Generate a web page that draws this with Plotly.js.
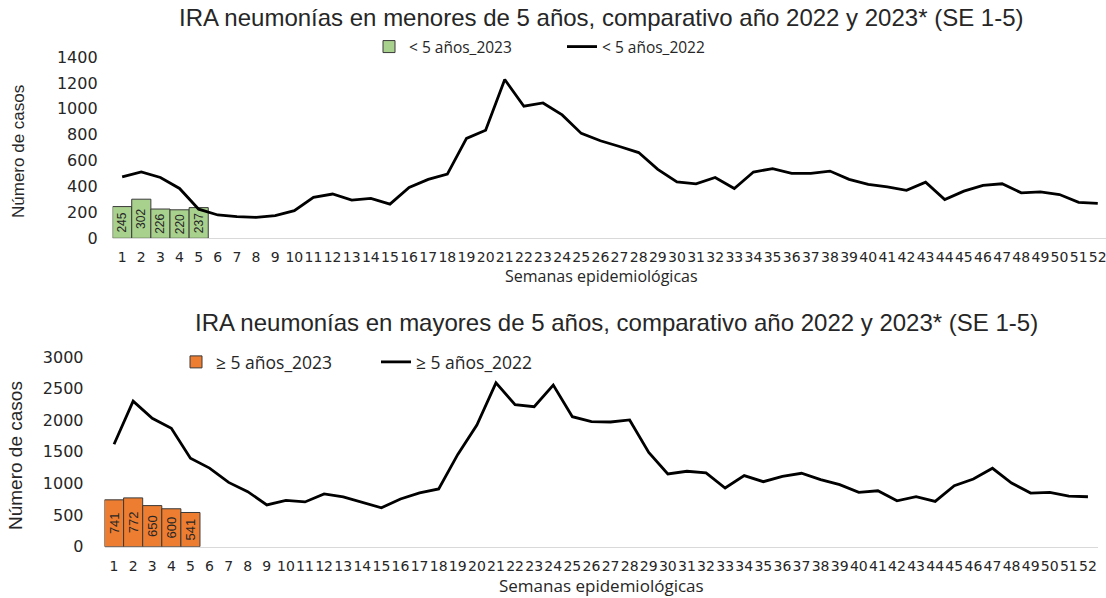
<!DOCTYPE html>
<html>
<head>
<meta charset="utf-8">
<script src="https://cdn.plot.ly/plotly-3.0.1.min.js"></script>
<style>html,body{margin:0;padding:0;background:#fff;}#chart{width:1106px;height:598px;}</style>
</head>
<body>
<div id="chart"></div>
<script>
// ---- data ----
const weeks = [1,2,3,4,5,6,7,8,9,10,11,12,13,14,15,16,17,18,19,20,21,22,23,24,25,26,27,28,29,30,31,32,33,34,35,36,37,38,39,40,41,42,43,44,45,46,47,48,49,50,51,52];
const weekLabels = ["1","2","3","4","5","6","7","8","9","10","11","12","13","14","15","16","17","18","19","20","21","22","23","24","25","26","27","28","29","30","31","32","33","34","35","36","37","38","39","40","41","42","43","44","45","46","47","48","49","50","51","52"];
const weeks2023 = [1,2,3,4,5];

const menores2023 = [245,302,226,220,237];
const menores2022 = [475,513,470,385,225,180,167,162,175,213,316,342,295,308,264,393,455,496,771,835,1226,1020,1045,953,810,753,709,662,532,436,421,470,384,512,538,501,501,519,455,416,397,371,434,299,364,408,421,351,358,338,278,270];

const mayores2023 = [741,772,650,600,541];
const mayores2022 = [1621,2302,2030,1872,1400,1243,1017,871,661,734,708,834,787,703,614,755,850,913,1460,1925,2591,2245,2213,2555,2056,1977,1972,2004,1490,1150,1193,1166,928,1124,1028,1113,1161,1060,981,859,885,726,790,716,965,1071,1240,1007,848,859,800,790];

const names = ["< 5 años_2023","< 5 años_2022","≥ 5 años_2023","≥ 5 años_2022"];
const titles = ["IRA neumonías en menores de 5 años, comparativo año 2022 y 2023* (SE 1-5)",
                "IRA neumonías en mayores de 5 años, comparativo año 2022 y 2023* (SE 1-5)"];
const xTitle = "Semanas epidemiológicas";
const yTitle = "Número de casos";

// ---- styling ----
const W = 1106, H = 598;
const px = v => v / W;
const py = v => 1 - v / H;
const TXT = "#262626";
const FONT = "Open Sans, DejaVu Sans, sans-serif";
const TICKFONT = "DejaVu Sans, sans-serif";
const TFONT = "Liberation Sans, Arial, sans-serif";

const traces = [
  {type:"bar", x:weeks2023, y:menores2023, name:names[0], xaxis:"x", yaxis:"y",
   marker:{color:"#a9d18e", line:{color:"#3a3a3a", width:1}},
   text:menores2023.map(String), textposition:"inside", textangle:-90, insidetextanchor:"middle", constraintext:"none",
   textfont:{family:TFONT, size:12, color:TXT}, legend:"legend", hoverinfo:"x+y"},
  {type:"scatter", mode:"lines", x:weeks, y:menores2022, name:names[1], xaxis:"x", yaxis:"y",
   line:{color:"#000", width:2.8}, legend:"legend"},
  {type:"bar", x:weeks2023, y:mayores2023, name:names[2], xaxis:"x2", yaxis:"y2",
   marker:{color:"#ed7d31", line:{color:"#3a3a3a", width:1}},
   text:mayores2023.map(String), textposition:"inside", textangle:-90, insidetextanchor:"middle", constraintext:"none",
   textfont:{family:TFONT, size:13, color:TXT}, legend:"legend2", hoverinfo:"x+y"},
  {type:"scatter", mode:"lines", x:weeks, y:mayores2022, name:names[3], xaxis:"x2", yaxis:"y2",
   line:{color:"#000", width:2.8}, legend:"legend2"}
];

const xCommon = {tickmode:"array", tickvals:weeks, ticktext:weekLabels, showgrid:false, zeroline:false,
  showline:true, linecolor:"#d9d9d9", linewidth:1, ticks:"", ticklabelstandoff:6, ticklabeloverflow:"allow",
  tickfont:{family:TICKFONT, size:14, color:TXT}, tickangle:0, automargin:false, fixedrange:true};
const yCommon = {showgrid:false, zeroline:false, showline:false, ticks:"",
  tickfont:{family:TICKFONT, size:16, color:TXT}, automargin:false, fixedrange:true};

const layout = {
  width:W, height:H, margin:{l:0,r:0,t:0,b:0}, paper_bgcolor:"#fff", plot_bgcolor:"rgba(0,0,0,0)",
  bargap:0, showlegend:true,
  xaxis:Object.assign({}, xCommon, {domain:[px(112.6), 1], range:[0.5, 52.43], anchor:"y"}),
  yaxis:Object.assign({}, yCommon, {domain:[py(238.3), py(57)], range:[0,1400], dtick:200, anchor:"x", ticklabelstandoff:14}),
  xaxis2:Object.assign({}, xCommon, {domain:[px(104.5), px(1097.5)], range:[0.5, 52.5], anchor:"y2"}),
  yaxis2:Object.assign({}, yCommon, {domain:[py(546.7), py(357)], range:[0,3000], dtick:500, anchor:"x2", ticklabelstandoff:20}),
  legend:{orientation:"h", x:px(369), xanchor:"left", y:py(47), yanchor:"middle", itemwidth:30, entrywidth:148,
    font:{family:FONT, size:15.5, color:TXT}, bgcolor:"rgba(0,0,0,0)", traceorder:"normal", itemclick:false},
  legend2:{orientation:"h", x:px(176), xanchor:"left", y:py(362), yanchor:"middle", itemwidth:30, entrywidth:155,
    font:{family:FONT, size:17.5, color:TXT}, bgcolor:"rgba(0,0,0,0)", traceorder:"normal", itemclick:false},
  annotations:[
    {text:titles[0], x:px(601), y:py(18), xref:"paper", yref:"paper", xanchor:"center", yanchor:"middle", showarrow:false,
     font:{family:TFONT, size:24, color:TXT}},
    {text:titles[1], x:px(616), y:py(322), xref:"paper", yref:"paper", xanchor:"center", yanchor:"middle", showarrow:false,
     font:{family:TFONT, size:24, color:TXT}},
    {text:xTitle, x:px(601), y:py(276), xref:"paper", yref:"paper", xanchor:"center", yanchor:"middle", showarrow:false,
     font:{family:FONT, size:16, color:TXT}},
    {text:xTitle, x:px(601), y:py(585), xref:"paper", yref:"paper", xanchor:"center", yanchor:"middle", showarrow:false,
     font:{family:FONT, size:17, color:TXT}},
    {text:yTitle, x:px(18), y:py(152), xref:"paper", yref:"paper", xanchor:"center", yanchor:"middle", showarrow:false,
     textangle:-90, font:{family:TFONT, size:17, color:TXT}},
    {text:yTitle, x:px(15), y:py(456), xref:"paper", yref:"paper", xanchor:"center", yanchor:"middle", showarrow:false,
     textangle:-90, font:{family:TFONT, size:19, color:TXT}}
  ]
};

Plotly.newPlot("chart", traces, layout, {displayModeBar:false, staticPlot:true});
</script>
</body>
</html>
